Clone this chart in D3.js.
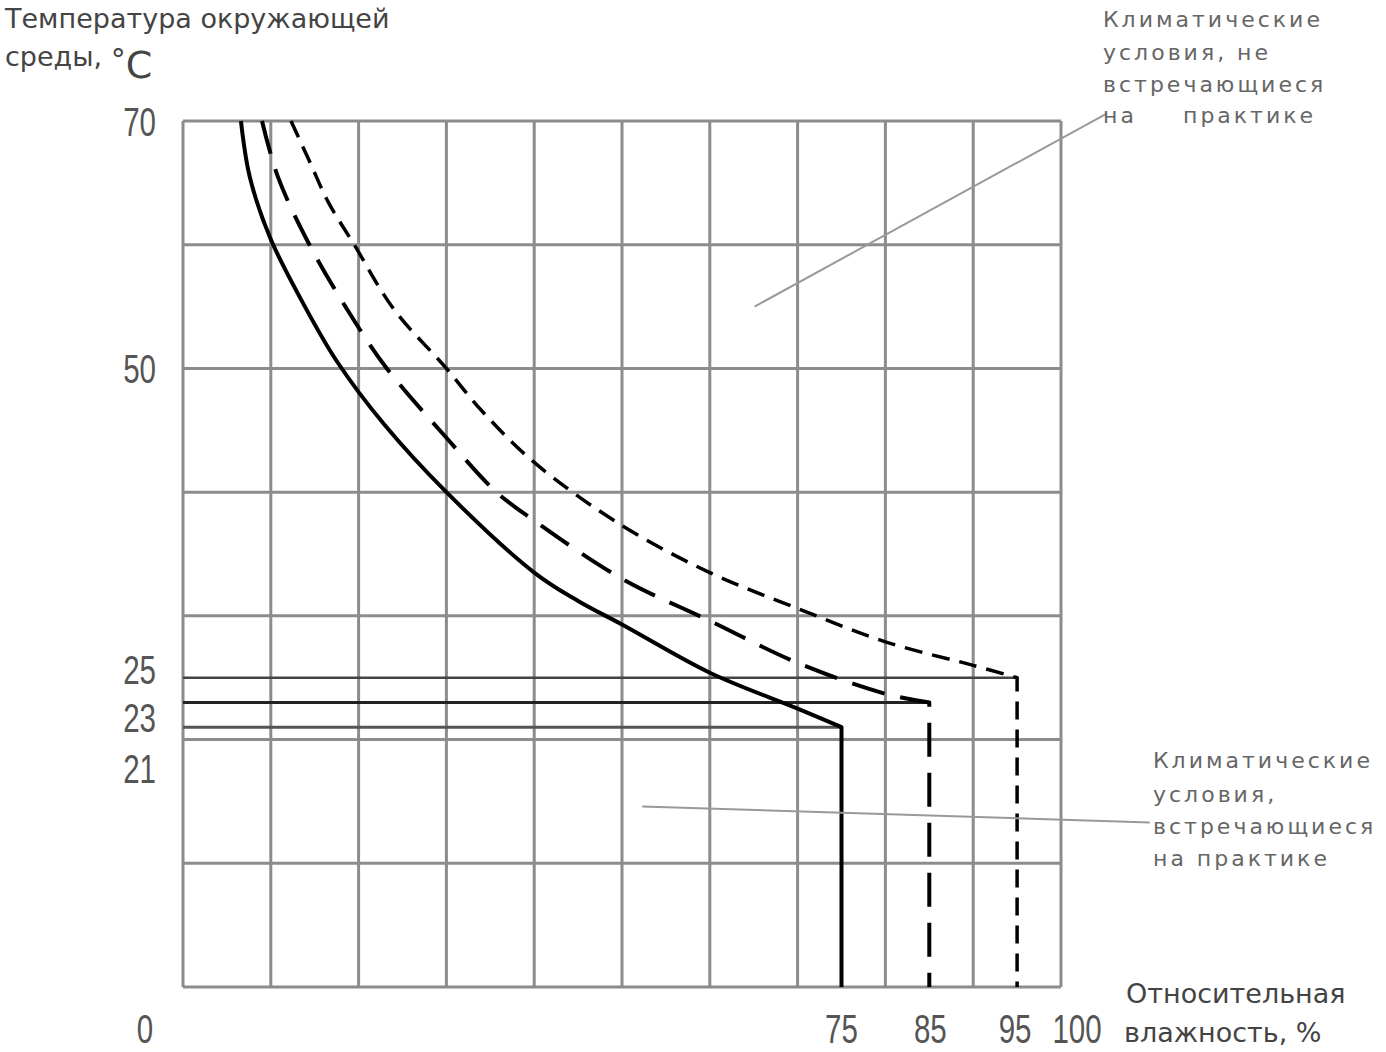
<!DOCTYPE html>
<html>
<head>
<meta charset="utf-8">
<script src="https://cdnjs.cloudflare.com/ajax/libs/d3/7.8.5/d3.min.js"></script>
<style>
  body { margin: 0; background: #fff; }
  svg { display: block; }
  .lbl { font-family: "Liberation Sans", Arial, sans-serif; font-size: 41px; fill: #555; }
  .ttl { font-family: "DejaVu Sans", sans-serif; font-size: 27px; fill: #444; }
  .note { font-family: "DejaVu Sans", sans-serif; font-size: 22px; fill: #666; letter-spacing: 3px; }
</style>
</head>
<body>
<svg id="chart" width="1386" height="1052"></svg>
<script>
// relative humidity (%) / temperature (C)
var solidCurve = [[6.6,70],[7.6,65.5],[9.9,60.6],[13.5,55.5],[17.5,50.6],[23,45.4],[30,40],
  [40,33.5],[45,31.2],[50,29.3],[60,25.4],[70,22.5],[75,21]];
var longDashCurve = [[9,70],[10.8,65.5],[14.4,60],[18.5,55],[23,50.2],[30,44.4],[35.7,40],
  [40,37.7],[50,33],[60,29.6],[70,26.2],[80,23.7],[85,23]];
var shortDashCurve = [[12.3,70],[14.5,66.6],[16.5,63.5],[19.5,60],[24,54.8],[30,50],[34,46.6],
  [40,42.4],[50,37.3],[60,33.5],[70,30.6],[80,27.9],[90,26],[95,25]];

var yTickLabels = [70, 50, 25, 23, 21];
var xTickLabels = [0, 75, 85, 95, 100];
var xGrid = d3.range(0, 101, 10);
var yGrid = d3.range(0, 71, 10);

var svg = d3.select("#chart");
var x = d3.scaleLinear().domain([0, 100]).range([183, 1061]);
var y = d3.scaleLinear().domain([0, 70]).range([987, 121]);

// grid
var grid = svg.append("g").attr("stroke", "#8c8c8c").attr("stroke-width", 3);
grid.selectAll(".vx").data(xGrid).enter().append("line")
  .attr("x1", d => x(d)).attr("x2", d => x(d)).attr("y1", y(0)).attr("y2", y(70));
grid.selectAll(".hy").data(yGrid).enter().append("line")
  .attr("x1", x(0)).attr("x2", x(100)).attr("y1", d => y(d)).attr("y2", d => y(d));

var series = [
  { pts: solidCurve, dash: null, w: 4, lvlColor: "#555", lvlW: 3 },
  { pts: longDashCurve, dash: "34,16", w: 4, lvlColor: "#222", lvlW: 3 },
  { pts: shortDashCurve, dash: "18,10", w: 3.5, lvlColor: "#444", lvlW: 2.5 }
];

var line = d3.line().x(d => x(d[0])).y(d => y(d[1])).curve(d3.curveCatmullRom.alpha(0.5));

series.forEach(function(s) {
  var end = s.pts[s.pts.length - 1];
  // level line from the axis to the end of the curve
  svg.append("line")
    .attr("x1", x(0)).attr("x2", x(end[0]))
    .attr("y1", y(end[1])).attr("y2", y(end[1]))
    .attr("stroke", s.lvlColor).attr("stroke-width", s.lvlW);
});

series.forEach(function(s) {
  var end = s.pts[s.pts.length - 1];
  // curve, then straight down to 0 C
  svg.append("path")
    .attr("d", line(s.pts) + "L" + x(end[0]) + "," + y(0))
    .attr("fill", "none").attr("stroke", "#000")
    .attr("stroke-width", s.w)
    .attr("stroke-linejoin", "round")
    .attr("stroke-dasharray", s.dash);
});

// tick labels (narrow digits)
var yDy = { 70: 0, 50: 0, 25: -9, 23: 15, 21: 41 };
svg.selectAll(".yl").data(yTickLabels).enter().append("text")
  .attr("class", "lbl").attr("text-anchor", "end")
  .attr("transform", d => "translate(156," + (y(d) + yDy[d] + 15) + ") scale(0.72,1)")
  .text(d => d);

var xDx = { 0: -38, 75: 0, 85: 1, 95: -2, 100: 16 };
svg.selectAll(".xl").data(xTickLabels).enter().append("text")
  .attr("class", "lbl").attr("text-anchor", "middle")
  .attr("transform", d => "translate(" + (x(d) + xDx[d]) + ",1043) scale(0.72,1)")
  .text(d => d);

// axis titles
svg.append("text").attr("class", "ttl").attr("x", 5).attr("y", 28).text("Температура окружающей");
var yt2 = svg.append("text").attr("class", "ttl").attr("x", 5).attr("y", 66);
yt2.append("tspan").text("среды, ");
yt2.append("tspan").attr("font-size", 30).attr("dy", 4).text("°");
yt2.append("tspan").attr("font-size", 38).attr("dy", 8).text("C");

svg.append("text").attr("class", "ttl").attr("x", 1126).attr("y", 1003).text("Относительная");
svg.append("text").attr("class", "ttl").attr("x", 1124).attr("y", 1042).text("влажность, %");

// annotations
var pointers = [
  [[65.1, 55.0], [105.2, 70.6]],
  [[52.3, 14.6], [110.1, 13.3]]
];
svg.selectAll(".ptr").data(pointers).enter().append("line")
  .attr("x1", d => x(d[0][0])).attr("y1", d => y(d[0][1]))
  .attr("x2", d => x(d[1][0])).attr("y2", d => y(d[1][1]))
  .attr("stroke", "#999").attr("stroke-width", 2);

function note(x0, ys, lines) {
  lines.forEach(function(l, i) {
    var t = svg.append("text").attr("class", "note").attr("x", x0).attr("y", ys[i]);
    if (Array.isArray(l)) {
      t.text(l[0]);
      svg.append("text").attr("class", "note").attr("x", x0 + l[1]).attr("y", ys[i]).text(l[2]);
    } else t.text(l);
  });
}
note(1103, [27, 60, 92, 123], ["Климатические", "условия, не", "встречающиеся", ["на", 80, "практике"]]);
note(1153, [768, 802, 834, 866], ["Климатические", "условия,", "встречающиеся", "на практике"]);
</script>
</body>
</html>
